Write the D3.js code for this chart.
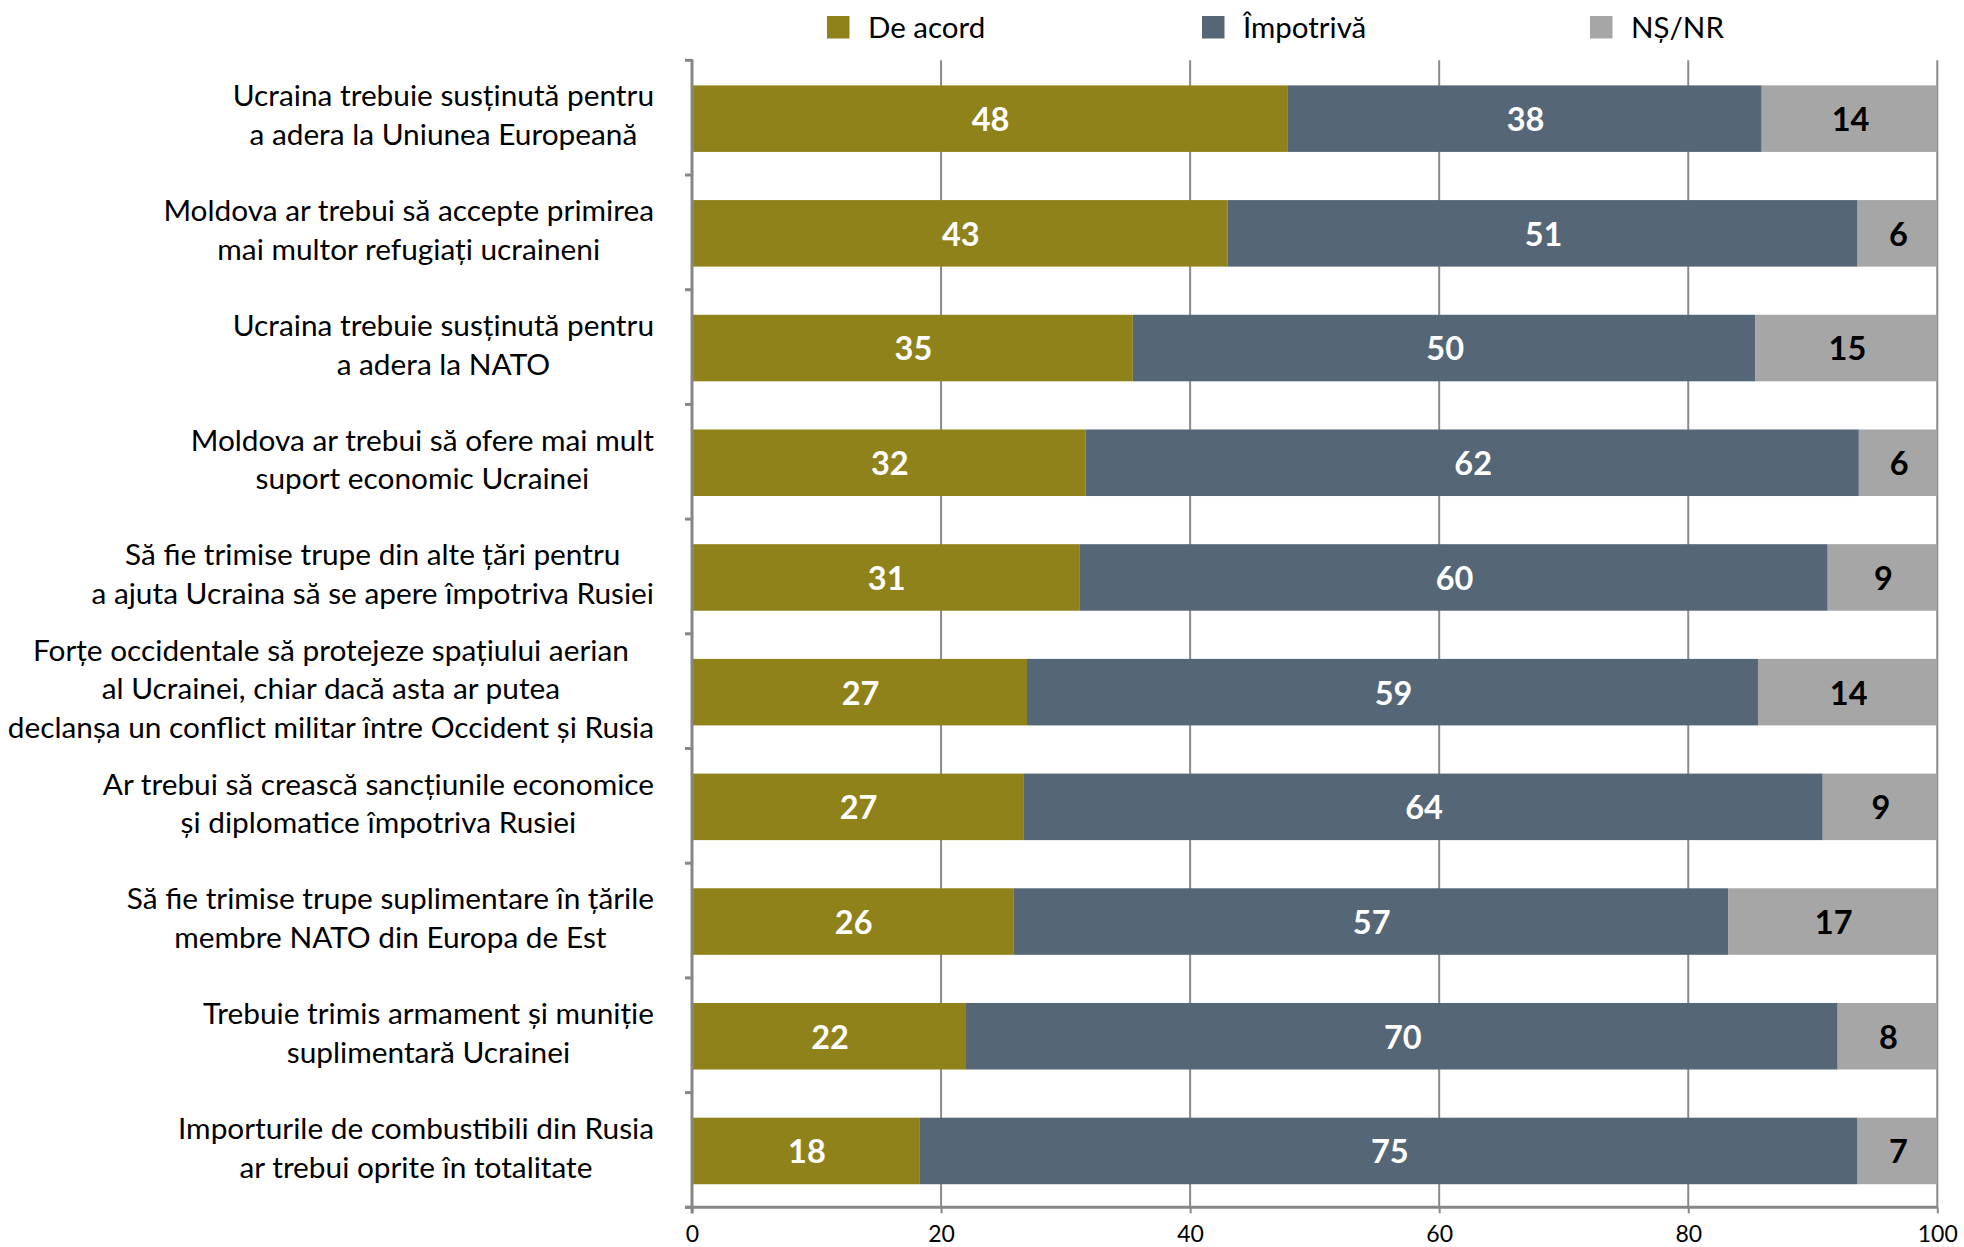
<!DOCTYPE html>
<html><head><meta charset="utf-8">
<script src="https://cdn.jsdelivr.net/npm/d3@7"></script>
<style>body{margin:0;background:#fff}svg{display:block}</style>
</head><body>
<svg id="c" width="1964" height="1247"></svg>
<script>
const categories = [
  "Ucraina trebuie susținută pentru\na adera la Uniunea Europeană",
  "Moldova ar trebui să accepte primirea\nmai multor refugiați ucraineni",
  "Ucraina trebuie susținută pentru\na adera la NATO",
  "Moldova ar trebui să ofere mai mult\nsuport economic Ucrainei",
  "Să fie trimise trupe din alte țări pentru\na ajuta Ucraina să se apere împotriva Rusiei",
  "Forțe occidentale să protejeze spațiului aerian\nal Ucrainei, chiar dacă asta ar putea\ndeclanșa un conflict militar între Occident și Rusia",
  "Ar trebui să crească sancțiunile economice\nși diplomatice împotriva Rusiei",
  "Să fie trimise trupe suplimentare în țările\nmembre NATO din Europa de Est",
  "Trebuie trimis armament și muniție\nsuplimentară Ucrainei",
  "Importurile de combustibili din Rusia\nar trebui oprite în totalitate"
];
const seriesNames = ["De acord", "Împotrivă", "NȘ/NR"];
const deAcord   = [47.8, 43.0, 35.4, 31.6, 31.1, 26.9, 26.6, 25.8, 22.0, 18.3];
const impotriva = [38.1, 50.6, 50.0, 62.1, 60.1, 58.7, 64.2, 57.4, 70.0, 75.3];
const nsnr      = [14.1, 6.4, 14.6, 6.3, 8.8, 14.4, 9.2, 16.8, 8.0, 6.6];
const xTicks = [0, 20, 40, 60, 80, 100];

const colors = ["#8f821b", "#556777", "#a6a6a6"];
const labelColors = ["#ffffff", "#ffffff", "#000000"];
const FONT = "Lato, 'Open Sans', sans-serif";

const rows = categories.map((c, i) => ({i, c, s0: deAcord[i], s1: impotriva[i], s2: nsnr[i]}));
const keys = ["s0", "s1", "s2"];
const stacked = d3.stack().keys(keys)(rows);

const svg = d3.select("#c");
const x = d3.scaleLinear().domain([0, 100]).range([692, 1937.3]).clamp(true);
const y = d3.scaleBand().domain(d3.range(categories.length)).range([60.3, 1207.3])
  .paddingInner(0.42).paddingOuter(0.21);
const step = y.step();
const plotTop = y.range()[0], plotBottom = y.range()[1];

// gridlines
svg.append("g").selectAll("line").data(xTicks.filter(t => t > 0)).join("line")
  .attr("x1", d => x(d)).attr("x2", d => x(d))
  .attr("y1", plotTop).attr("y2", plotBottom)
  .attr("stroke", "#8a8a8a").attr("stroke-width", 2);

// bars
const gBars = svg.append("g");
stacked.forEach((s, si) => {
  gBars.append("g").selectAll("rect").data(s).join("rect")
    .attr("x", d => x(d[0]))
    .attr("width", d => x(d[1]) - x(d[0]))
    .attr("y", d => y(d.data.i) + 1)
    .attr("height", y.bandwidth())
    .attr("fill", colors[si]);
  gBars.append("g").selectAll("text").data(s).join("text")
    .attr("x", d => (x(d[0]) + x(d[1])) / 2 + 1)
    .attr("y", d => y(d.data.i) + 1 + y.bandwidth() / 2)
    .attr("dy", "0.38em")
    .attr("text-anchor", "middle")
    .attr("font-family", FONT).attr("font-weight", "bold").attr("font-size", 32.5)
    .attr("fill", labelColors[si])
    .text(d => d3.format(".0f")(d[1] - d[0]));
});

// left axis
const gL = svg.append("g");
gL.append("line").attr("x1", x(0)).attr("x2", x(0)).attr("y1", plotTop - 1).attr("y2", plotBottom + 6)
  .attr("stroke", "#878787").attr("stroke-width", 3);
gL.selectAll("line.tk").data(d3.range(categories.length + 1)).join("line").attr("class", "tk")
  .attr("x1", x(0) - 7).attr("x2", x(0))
  .attr("y1", d => plotTop + d * step).attr("y2", d => plotTop + d * step)
  .attr("stroke", "#878787").attr("stroke-width", 3);

// bottom axis
const gB = svg.append("g").attr("transform", `translate(0,${plotBottom})`)
  .call(d3.axisBottom(x).tickValues(xTicks).tickSize(6).tickPadding(12).tickFormat(d3.format("d")));
gB.select(".domain").attr("stroke", "#878787").attr("stroke-width", 3).attr("d", `M${x(0) - 7},0H${x(100)}`);
gB.selectAll(".tick line").attr("stroke", "#878787").attr("stroke-width", 2);
gB.selectAll(".tick text").attr("font-family", FONT).attr("font-size", 23).attr("fill", "#000");

// category labels
const labelRight = 654;
const lineH = 38.8;
const gC = svg.append("g");
categories.forEach((c, i) => {
  const lines = c.split("\n");
  const t = gC.append("text").attr("font-family", FONT).attr("font-size", 29.8)
    .attr("fill", "#000").attr("text-anchor", "middle");
  const cy = y(i) + y.bandwidth() / 2 - 2.5;
  const y0 = cy - (lines.length - 1) * lineH / 2;
  lines.forEach((l, k) => {
    t.append("tspan").attr("y", y0 + k * lineH).attr("dy", "0.36em").text(l);
  });
  const maxW = d3.max(t.selectAll("tspan").nodes(), n => n.getComputedTextLength());
  t.selectAll("tspan").attr("x", labelRight - maxW / 2);
});

// legend
const legendX = [827, 1202, 1590];
const gLeg = svg.append("g");
seriesNames.forEach((n, i) => {
  gLeg.append("rect").attr("x", legendX[i]).attr("y", 16).attr("width", 22.5).attr("height", 22.5).attr("fill", colors[i]);
  gLeg.append("text").attr("x", legendX[i] + 41).attr("y", 27).attr("dy", "0.36em")
    .attr("font-family", FONT).attr("font-size", 29.5).attr("fill", "#000").text(n);
});
</script>
</body></html>
